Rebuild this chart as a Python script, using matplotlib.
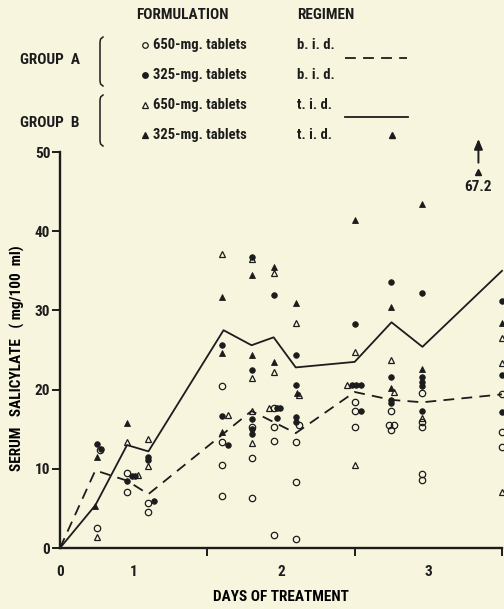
#!/usr/bin/env python3
"""
Serum salicylate levels over days of treatment (scanned figure redraw)
"""

import matplotlib
matplotlib.use('Agg')
import matplotlib.pyplot as plt
from matplotlib import font_manager

# --- data: days of treatment vs serum salicylate (mg/100 ml) ---
# Group A, 650-mg tablets (open circles)
a650_day = [0.25, 0.27, 0.455, 0.455, 0.60, 0.60, 1.10, 1.10, 1.10, 1.10,
            1.30, 1.30, 1.30, 1.45, 1.45, 1.45, 1.45, 1.60, 1.62, 1.60, 1.60,
            2.00, 2.00, 2.00, 2.25, 2.23, 2.27, 2.25,
            2.46, 2.46, 2.46, 2.46, 2.46, 3.00, 3.00, 3.00]
a650_val = [2.5, 12.4, 9.5, 7.1, 5.7, 4.6, 20.5, 13.4, 10.5, 6.6,
            15.3, 11.4, 6.3, 17.7, 15.3, 13.5, 1.6, 13.4, 15.5, 8.3, 1.1,
            18.4, 17.3, 15.3, 17.3, 15.5, 15.5, 14.9,
            19.6, 15.9, 15.3, 9.3, 8.6, 19.4, 14.6, 12.8]

# Group A, 325-mg tablets (filled circles)
a325_day = [0.25, 0.28, 0.49, 0.51, 0.455, 0.60, 0.60, 0.64,
            1.10, 1.10, 1.14, 1.30, 1.30, 1.30, 1.30, 1.30,
            1.45, 1.47, 1.49, 1.47, 1.60, 1.60, 1.60, 1.60,
            2.00, 1.98, 2.01, 2.04, 2.04,
            2.25, 2.25, 2.25, 2.25, 2.46, 2.46, 2.46, 2.46, 2.46,
            3.00, 3.00, 3.00]
a325_val = [13.1, 12.5, 9.1, 9.1, 8.5, 11.5, 11.1, 5.9,
            25.6, 16.7, 13.0, 36.8, 22.5, 16.3, 15.0, 14.4,
            31.9, 17.7, 17.7, 16.4, 24.4, 20.6, 16.5, 15.9,
            28.3, 20.6, 20.6, 20.6, 17.3,
            33.6, 21.6, 18.7, 18.3, 32.2, 21.6, 21.0, 20.4, 17.3,
            31.2, 21.8, 17.2]

# Group B, 650-mg tablets (open triangles)
b650_day = [0.25, 0.455, 0.53, 0.60, 0.60, 1.10, 1.14,
            1.30, 1.30, 1.30, 1.30, 1.45, 1.45, 1.42, 1.60, 1.62,
            1.95, 2.00, 2.00, 2.25, 2.27, 2.46, 3.00, 3.00, 3.00]
b650_val = [1.4, 13.4, 9.2, 13.8, 10.4, 37.1, 16.8,
            36.5, 21.5, 17.3, 13.3, 34.7, 22.2, 17.7, 28.4, 19.3,
            20.6, 24.7, 10.5, 23.7, 19.7, 16.4, 26.5, 23.4, 7.1]

# Group B, 325-mg tablets (filled triangles)
b325_day = [0.25, 0.24, 0.455, 1.10, 1.10, 1.10, 1.30, 1.30, 1.45, 1.45,
            1.60, 1.61, 2.00, 2.25, 2.25, 2.46, 2.46, 3.00]
b325_val = [11.5, 5.3, 15.8, 31.7, 24.6, 14.7, 34.5, 24.4, 35.5, 23.5,
            30.9, 19.6, 41.4, 30.4, 20.2, 43.4, 22.6, 28.4]

# off-scale reading (drawn at top with an arrow)
offscale_day = 2.84
offscale_val = 67.2
offscale_plot_y = 47.5

# mean curves
tid_day = [0, 0.24, 0.455, 0.60, 1.11, 1.30, 1.45, 1.60, 2.00, 2.25, 2.46, 3.00]
tid_mean = [0, 5.4, 13.0, 12.2, 27.5, 25.6, 26.6, 22.8, 23.5, 28.5, 25.4, 35.0]
bid_day = [0, 0.24, 0.455, 0.60, 1.30, 1.60, 2.00, 2.25, 2.46, 3.00]
bid_mean = [0, 9.8, 8.5, 6.8, 17.3, 14.5, 19.7, 18.7, 18.4, 19.4]

day_ticks = [0, 0.5, 1.5, 2.5]
day_labels = ['0', '1', '2', '3']
day_marks = [1, 2, 3]
level_ticks = [0, 10, 20, 30, 40, 50]

INK = '#1c1c1c'
PAPER = '#f8f5df'


def pick_font():
    """Look for a narrow sans face; fall back to Roboto."""
    faces = font_manager.fontManager.ttflist
    for want in ['Liberation Sans Narrow', 'Roboto Condensed', 'Open Sans Condensed',
                 'DejaVu Sans Condensed', 'Noto Sans Condensed']:
        if any(f.name == want for f in faces):
            return want, 'normal', 'bold'
    for f in faces:
        if f.stretch in ('condensed', 'semi-condensed', 'extra-condensed') and 'Mono' not in f.name \
                and 'Serif' not in f.name and 'CJK' not in f.name:
            return f.name, f.stretch, 'bold'
    return 'Roboto', 'normal', 'medium'


FONT, STRETCH, WEIGHT = pick_font()
plt.rcParams['font.family'] = [FONT, 'DejaVu Sans']
plt.rcParams['font.stretch'] = STRETCH
plt.rcParams['font.weight'] = WEIGHT
plt.rcParams['axes.labelweight'] = WEIGHT
plt.rcParams['text.color'] = INK
narrow = FONT != 'Roboto'
fs = 11 if narrow else 9.8

fig = plt.figure(figsize=(5.04, 6.09), dpi=100, facecolor=PAPER)

# overlay in pixel units for the key at the top
lg = fig.add_axes([0, 0, 1, 1])
lg.set_xlim(0, 504)
lg.set_ylim(609, 0)
lg.axis('off')

ax = fig.add_axes([60 / 504, 61 / 609, 442 / 504, 396 / 609])
ax.set_facecolor('none')

ms = 4.6
ax.plot(a650_day, a650_val, 'o', ms=ms, mfc='none', mec=INK, mew=0.9, clip_on=False)
ax.plot(a325_day, a325_val, 'o', ms=ms - 0.6, mfc=INK, mec=INK, mew=0.6, clip_on=False)
ax.plot(b650_day, b650_val, '^', ms=ms, mfc='none', mec=INK, mew=0.9, clip_on=False)
ax.plot(b325_day, b325_val, '^', ms=ms, mfc=INK, mec=INK, mew=0.6, clip_on=False)

ax.plot(tid_day, tid_mean, '-', color=INK, lw=1.3, clip_on=False)
ax.plot(bid_day, bid_mean, '--', color=INK, lw=1.3, dashes=(6, 4), clip_on=False)

ax.plot([offscale_day], [offscale_plot_y], '^', ms=ms, color=INK, clip_on=False)
ax.annotate('', xy=(offscale_day, 52.0), xytext=(offscale_day, 48.3),
            arrowprops=dict(arrowstyle='-|>,head_width=0.25,head_length=0.6',
                            color=INK, lw=1.4),
            annotation_clip=False)
ax.text(offscale_day, 45.6, f'{offscale_val:.1f}', ha='center', va='center',
        fontsize=fs)

ax.set_xlim(0, 3)
ax.set_ylim(0, 50)
for s in ['top', 'right']:
    ax.spines[s].set_visible(False)
for s in ['left', 'bottom']:
    ax.spines[s].set_linewidth(1.7)
    ax.spines[s].set_color(INK)

ax.set_yticks(level_ticks)
ax.tick_params(axis='y', length=6, width=1.4, pad=1, labelsize=fs, colors=INK)
ax.set_xticks(day_ticks, labels=day_labels)
ax.tick_params(axis='x', which='major', length=0, pad=12, labelsize=fs, colors=INK)
ax.set_xticks(day_marks, minor=True)
ax.tick_params(axis='x', which='minor', length=6, width=1.4, direction='out', colors=INK)

ax.set_xlabel('DAYS OF TREATMENT', fontsize=fs)
ax.xaxis.set_label_coords(0.5, -0.105)
ax.set_ylabel('SERUM   SALICYLATE   ( mg/100  ml)', fontsize=fs)
ax.yaxis.set_label_coords(-0.08, 0.48)

# --- key ---
lg.text(182, 15, 'FORMULATION', ha='center', va='center', fontsize=fs)
lg.text(297, 15, 'REGIMEN', ha='left', va='center', fontsize=fs)
lg.text(20, 60, 'GROUP  A', ha='left', va='center', fontsize=fs)
lg.text(20, 123, 'GROUP  B', ha='left', va='center', fontsize=fs)

for y0, y1 in [(37, 86), (95, 146)]:
    lg.plot([103, 100.6, 100, 100, 100.6, 103],
            [y0, y0 + 2, y0 + 5, y1 - 5, y1 - 2, y1], color=INK, lw=1.1)

rows = [(45, 'o', 'none', '650-mg. tablets', 'b. i. d.'),
        (75, 'o', INK, '325-mg. tablets', 'b. i. d.'),
        (105, '^', 'none', '650-mg. tablets', 't. i. d.'),
        (135, '^', INK, '325-mg. tablets', 't. i. d.')]
for y, mk, fc, form, reg in rows:
    lg.plot([145], [y], mk, ms=4, mfc=fc, mec=INK, mew=0.9)
    lg.text(153, y, form, ha='left', va='center', fontsize=fs - 0.5)
    lg.text(297, y, reg, ha='left', va='center', fontsize=fs - 0.5)

lg.plot([345, 407], [58, 58], '--', color=INK, lw=1.3, dashes=(6, 4))
lg.plot([345, 408], [117, 117], '-', color=INK, lw=1.3)
lg.plot([392], [135], '^', ms=4, color=INK)

fig.savefig('out.png', dpi=100, facecolor=PAPER)
plt.close(fig)
